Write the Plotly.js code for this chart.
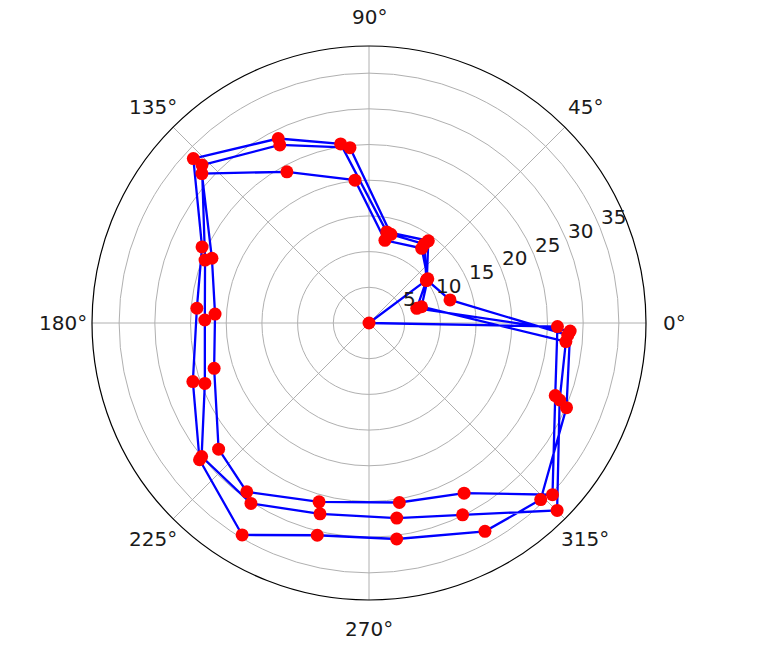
<!DOCTYPE html>
<html>
<head>
<meta charset="utf-8">
<script src="https://cdn.plot.ly/plotly-3.0.1.min.js"></script>
<style>html,body{margin:0;padding:0;background:#fff;}#chart{width:757px;height:658px;}</style>
</head>
<body>
<div id="chart"></div>
<script>
// Angles (degrees) and radii of the points, in drawing order
const thetaDeg = [356.5, 15.9,
  36.7, 54.2, 79.0, 99.0, 116.2, 136.9, 155.5, 175.1, 198.4, 218.9, 239.1, 256.3, 277.3, 299.1, 314.2, 336.8, 357.7,
  17.1,
  36.5, 55.0, 76.1, 96.2, 116.6, 136.6, 159.0, 178.95, 200.2, 218.6, 236.8, 255.6, 278.1, 296.0, 315.1, 338.0, 354.6,
  17.2,
  36.9, 54.8, 79.1, 95.6, 118.5, 138.2, 157.6, 176.7, 196.3, 220.0, 234.1, 254.4, 279.6, 299.2, 316.9, 338.7, 358.9,
  16.0, 36.7];
const radius = [27.9, 11.8,
  10.1, 14.2, 13.0, 25.4, 28.8, 33.7, 25.7, 24.2, 26.0, 30.5, 34.6, 30.6, 30.5, 33.4, 34.5, 30.1, 28.2,
  7.0,
  10.0, 13.5, 12.8, 24.7, 27.9, 32.2, 24.6, 23.0, 24.5, 30.0, 30.2, 27.6, 27.6, 29.9, 37.2, 28.8, 27.7,
  7.7,
  10.3, 12.8, 11.8, 20.1, 24.1, 31.4, 23.8, 21.6, 22.6, 27.5, 29.2, 26.0, 25.5, 27.3, 35.2, 28.0, 26.4,
  0.0, 10.1];
const angleTicks = [0, 45, 90, 135, 180, 225, 270, 315];
const angleLabels = ['0°', '45°', '90°', '135°', '180°', '225°', '270°', '315°'];
const radialTicks = [5, 10, 15, 20, 25, 30, 35];
const radialLabels = ['5', '10', '15', '20', '25', '30', '35'];
const rMax = 38.8;
const radialLabelAngle = 22.5;

const font = {family: 'DejaVu Sans, sans-serif', size: 20, color: '#1a1a1a'};

// Tick labels placed as matplotlib does: angular labels centred outside the
// frame, radial labels left-aligned along the 22.5° direction.
const annotations = [];
const deg = Math.PI / 180;
const labelRadius = 0.5 * 306 / 277; // fraction of the polar diameter
angleTicks.forEach((a, i) => {
  annotations.push({
    xref: 'paper', yref: 'paper',
    x: 0.5 + labelRadius * Math.cos(a * deg),
    y: 0.5 + labelRadius * Math.sin(a * deg),
    text: angleLabels[i], showarrow: false,
    xanchor: 'center', yanchor: 'middle', font: font
  });
});
radialTicks.forEach((v, i) => {
  const f = 0.5 * v / rMax;
  annotations.push({
    xref: 'paper', yref: 'paper',
    x: 0.5 + f * Math.cos(radialLabelAngle * deg),
    y: 0.5 + f * Math.sin(radialLabelAngle * deg),
    text: radialLabels[i], showarrow: false,
    xanchor: 'left', yanchor: 'middle', yshift: 10, xshift: -1, font: font
  });
});

Plotly.newPlot('chart', [{
  type: 'scatterpolar',
  mode: 'lines+markers',
  theta: thetaDeg,
  r: radius,
  line: {color: '#0000ff', width: 2.3},
  marker: {color: '#ff0000', size: 13, line: {width: 0}},
  cliponaxis: false,
  hoverinfo: 'skip'
}], {
  width: 757, height: 658,
  margin: {l: 92, r: 111, t: 46, b: 58, pad: 0},
  paper_bgcolor: '#fff',
  showlegend: false,
  font: font,
  annotations: annotations,
  polar: {
    bgcolor: '#fff',
    domain: {x: [0, 1], y: [0, 1]},
    angularaxis: {
      rotation: 0, direction: 'counterclockwise',
      tickmode: 'array', tickvals: angleTicks, ticktext: angleLabels,
      showticklabels: false,
      showline: true, linecolor: '#000', linewidth: 1.2,
      showgrid: true, gridcolor: '#b0b0b0', gridwidth: 1,
      ticks: ''
    },
    radialaxis: {
      range: [0, rMax], angle: radialLabelAngle,
      tickmode: 'array', tickvals: radialTicks, ticktext: radialLabels,
      showticklabels: false,
      showline: false, ticks: '',
      showgrid: true, gridcolor: '#b0b0b0', gridwidth: 1
    }
  }
}, {displayModeBar: false, staticPlot: true});
</script>
</body>
</html>
